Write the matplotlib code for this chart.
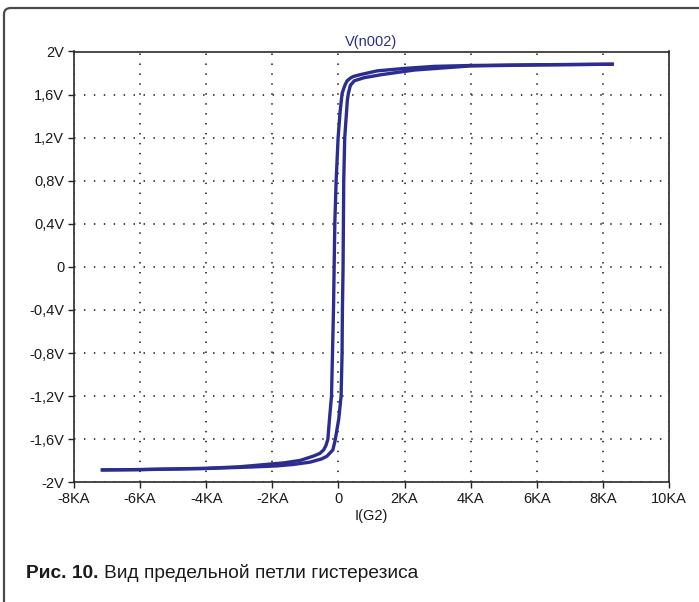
import matplotlib
matplotlib.use("Agg")
import matplotlib.pyplot as plt
from matplotlib.patches import FancyBboxPatch

plt.rcParams["font.family"] = ["Liberation Sans", "DejaVu Sans"]

# hysteresis loop, current in KA, voltage in V
# descending branch (from positive saturation down)
desc_i = [8.28, 6.0, 4.0, 2.9, 1.96, 1.17, 0.66, 0.45, 0.36, 0.26, 0.20, 0.15,
          0.11, 0.05, -0.01, -0.07, -0.11, -0.13, -0.15, -0.18, -0.21, -0.27,
          -0.32, -0.38, -0.45, -0.57, -0.77, -1.16, -1.66, -2.4, -3.0, -4.0,
          -6.0, -7.14]
desc_v = [1.882, 1.877, 1.870, 1.862, 1.842, 1.820, 1.785, 1.768, 1.753, 1.727,
          1.690, 1.648, 1.610, 1.440, 1.200, 0.800, 0.400, 0.0, -0.400, -0.800,
          -1.200, -1.410, -1.600, -1.660, -1.700, -1.733, -1.758, -1.797,
          -1.820, -1.840, -1.856, -1.870, -1.882, -1.885]
# ascending branch (from negative saturation up)
asc_i = [-7.14, -6.0, -4.0, -2.65, -1.87, -1.36, -0.86, -0.51, -0.35, -0.27,
         -0.17, -0.10, 0.01, 0.08, 0.11, 0.12, 0.14, 0.15, 0.16, 0.19, 0.27,
         0.30, 0.36, 0.48, 0.78, 1.30, 2.3, 4.0, 6.0, 8.28]
asc_v = [-1.885, -1.882, -1.872, -1.858, -1.848, -1.834, -1.813, -1.783,
         -1.758, -1.732, -1.700, -1.610, -1.410, -1.200, -0.800, -0.400, 0.0,
         0.400, 0.800, 1.200, 1.550, 1.610, 1.685, 1.728, 1.757, 1.785, 1.828,
         1.866, 1.875, 1.882]

x_ticks = [-8, -6, -4, -2, 0, 2, 4, 6, 8, 10]
x_labels = ["-8KA", "-6KA", "-4KA", "-2KA", "0", "2KA", "4KA", "6KA", "8KA", "10KA"]
y_ticks = [-2, -1.6, -1.2, -0.8, -0.4, 0, 0.4, 0.8, 1.2, 1.6, 2]
y_labels = ["-2V", "-1,6V", "-1,2V", "-0,8V", "-0,4V", "0", "0,4V", "0,8V",
            "1,2V", "1,6V", "2V"]

line_color = "#2b2e90"

fig = plt.figure(figsize=(6.99, 6.02), dpi=100)

# outer frame of the figure
W, H = 699, 602
frame = FancyBboxPatch((4 / W, -0.1), 1.2, 1.1 - 8 / H,
                       boxstyle="round,pad=0,rounding_size=0.01",
                       transform=fig.transFigure, fill=False,
                       edgecolor="#4a4a4a", linewidth=1.6)
fig.add_artist(frame)

ax = fig.add_axes([74 / W, 1 - 482.3 / H, (669 - 74) / W, (482.3 - 51.5) / H])
ax.plot(desc_i, desc_v, color=line_color, lw=2.4, solid_joinstyle="round")
ax.plot(asc_i, asc_v, color=line_color, lw=2.4, solid_joinstyle="round")

ax.set_xlim(-8, 10)
ax.set_ylim(-2, 2)
ax.set_xticks(x_ticks)
ax.set_xticklabels(x_labels)
ax.set_yticks(y_ticks)
ax.set_yticklabels(y_labels)
ax.tick_params(direction="out", length=4.5, width=1.0, color="#222222",
               labelsize=10.5, labelcolor="#1a1a1a", pad=2.5)
for sp in ax.spines.values():
    sp.set_color("#2a2a2a")
    sp.set_linewidth(1.2)
ax.grid(True, color="#333333", linestyle=(0, (0.8, 4.7)), linewidth=1.3)

ax.set_title("V(n002)", color=line_color, fontsize=10.5, pad=4)
ax.set_xlabel("I(G2)", fontsize=10.5, color="#1a1a1a", labelpad=2)

# caption
t1 = fig.text(26 / W, 1 - 573 / H, "Рис. 10.", fontsize=13.8, fontweight="bold",
              va="center", ha="left", color="#1a1a1a")
fig.canvas.draw()
bb = t1.get_window_extent()
fig.text((bb.x1 + 6) / W, 1 - 573 / H, "Вид предельной петли гистерезиса",
         fontsize=13.8, va="center", ha="left", color="#1a1a1a")

fig.savefig("out.png", dpi=100)
